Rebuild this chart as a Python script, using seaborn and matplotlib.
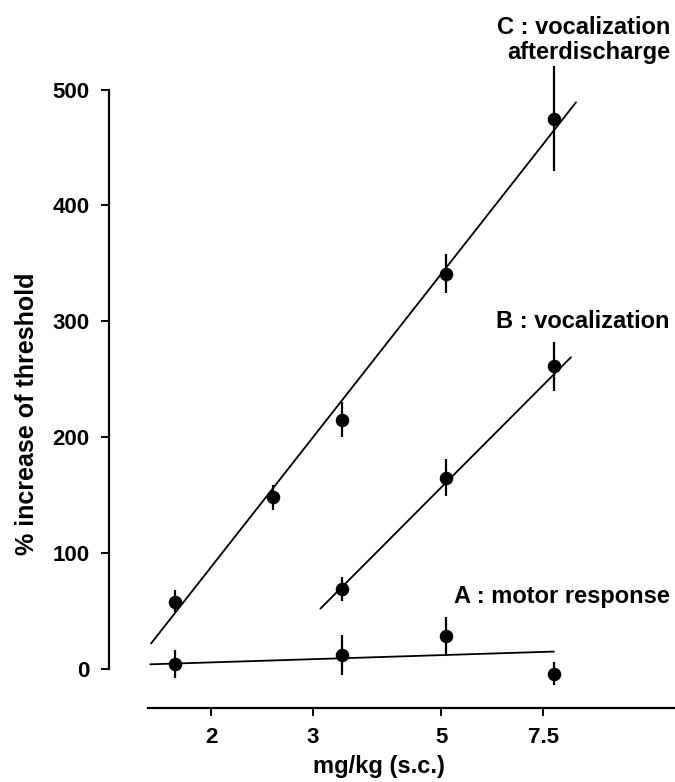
import numpy as np
import pandas as pd
import matplotlib
matplotlib.use("Agg")
import matplotlib.pyplot as plt
import seaborn as sns

# --- Dados ---
dose_A = [1.73, 3.37, 5.10, 7.84]
resp_A = [4, 12, 28, -4]
err_A = [12, 17, 17, 10]

dose_B = [3.37, 5.10, 7.84]
resp_B = [69, 165, 261]
err_B = [10, 16, 21]

dose_C = [1.73, 2.56, 3.37, 5.10, 7.84]
resp_C = [58, 148, 215, 341, 475]
err_C = [10, 11, 15, 17, 45]

# extremos das retas de regressão
fit_x_A = [1.57, 7.83]
fit_y_A = [4, 15]
fit_x_B = [3.09, 8.38]
fit_y_B = [52, 269]
fit_x_C = [1.575, 8.55]
fit_y_C = [22, 489]

x_ticks = [2, 3, 5, 7.5]
x_tick_labels = ["2", "3", "5", "7.5"]
y_ticks = [0, 100, 200, 300, 400, 500]

labels = {
    "A": "A : motor response",
    "B": "B : vocalization",
    "C": "C : vocalization\nafterdischarge",
}

# --- Estilo ---
sns.set_style("ticks")
plt.rcParams["font.family"] = ["Liberation Sans", "DejaVu Sans"]
plt.rcParams["font.weight"] = "bold"
plt.rcParams["text.color"] = "black"

fig = plt.figure(figsize=(6.75, 7.82), dpi=100)
ax = fig.add_axes([109 / 675, 74 / 782, 566 / 675, 688 / 782])

points = pd.concat([
    pd.DataFrame({"dose": dose_A, "resp": resp_A, "err": err_A, "curve": "A"}),
    pd.DataFrame({"dose": dose_B, "resp": resp_B, "err": err_B, "curve": "B"}),
    pd.DataFrame({"dose": dose_C, "resp": resp_C, "err": err_C, "curve": "C"}),
], ignore_index=True)

fits = pd.concat([
    pd.DataFrame({"dose": fit_x_A, "resp": fit_y_A, "curve": "A"}),
    pd.DataFrame({"dose": fit_x_B, "resp": fit_y_B, "curve": "B"}),
    pd.DataFrame({"dose": fit_x_C, "resp": fit_y_C, "curve": "C"}),
], ignore_index=True)

# barras de erro
ax.errorbar(points["dose"], points["resp"], yerr=points["err"], fmt="none",
            ecolor="black", elinewidth=1.6, capsize=0, zorder=2)

# retas
for curve, grp in fits.groupby("curve"):
    sns.lineplot(x="dose", y="resp", data=grp, ax=ax, color="black",
                 linewidth=1.3, zorder=3, legend=False)

# pontos
sns.scatterplot(x="dose", y="resp", data=points, ax=ax, color="black",
                s=95, edgecolor="black", linewidth=0, zorder=4, legend=False)

# --- Eixos ---
ax.set_xscale("log")
ax.set_xlim(1.332, 12.68)
ax.set_ylim(-33.7, 560)
ax.set_xticks(x_ticks)
ax.set_xticklabels(x_tick_labels)
ax.minorticks_off()
ax.set_yticks(y_ticks)
ax.set_xlabel("")
ax.set_ylabel("")

sns.despine(ax=ax)
ax.spines["left"].set_bounds(0, 500)
ax.spines["bottom"].set_bounds(1.556, 12.68)
for sp in ["left", "bottom"]:
    ax.spines[sp].set_linewidth(1.6)
    ax.spines[sp].set_color("black")
ax.tick_params(axis="both", direction="out", length=6, width=1.4,
               labelsize=16, pad=8, colors="black")
for lab in ax.get_xticklabels() + ax.get_yticklabels():
    lab.set_fontweight("bold")

fig.text(379 / 675, 1 - 766 / 782, "mg/kg (s.c.)", ha="center", va="center",
         fontsize=17, fontweight="bold")
fig.text(27 / 675, 1 - 414 / 782, "% increase of threshold", ha="center",
         va="center", rotation=90, fontsize=18, fontweight="bold")

# rótulos das curvas
fig.text(670 / 675, 1 - 40 / 782, labels["C"], ha="right", va="center",
         multialignment="right", fontsize=17, fontweight="bold", linespacing=1.15)
fig.text(670 / 675, 1 - 322 / 782, labels["B"], ha="right", va="center",
         fontsize=17, fontweight="bold")
fig.text(670 / 675, 1 - 596 / 782, labels["A"], ha="right", va="center",
         fontsize=17, fontweight="bold")

fig.savefig("out.png", dpi=100)
plt.close(fig)
